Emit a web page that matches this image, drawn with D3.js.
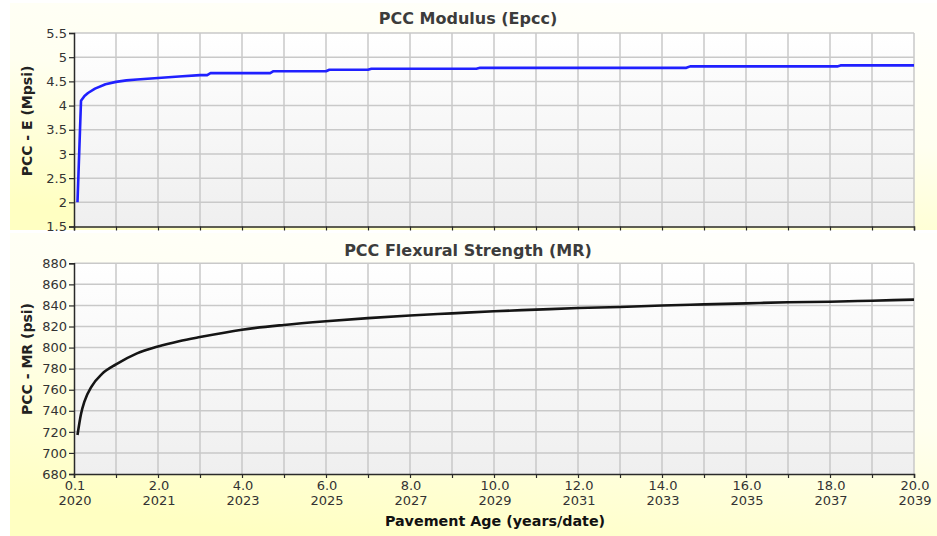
<!DOCTYPE html>
<html>
<head>
<meta charset="utf-8">
<script src="https://cdn.jsdelivr.net/npm/d3@7"></script>
<style>
  html, body { margin: 0; padding: 0; background: #ffffff; }
  svg { display: block; font-family: "DejaVu Sans", Verdana, sans-serif; }
</style>
</head>
<body>
<svg id="chart" width="937" height="536"></svg>
<script>
// Pavement age (years) and PCC modulus (Mpsi)
const ageE = [0.083, 0.167, 0.25, 0.333, 0.5, 0.75, 1.0, 1.25, 1.5, 2.0, 2.5, 3.0, 3.17, 3.25,
              4.67, 4.75, 6.0, 6.08, 7.0, 7.08, 9.58, 9.67, 14.58, 14.67, 18.17, 18.25, 20.0];
const epcc = [2.00, 4.10, 4.20, 4.26, 4.35, 4.44, 4.49, 4.52, 4.54, 4.57, 4.60, 4.63, 4.63, 4.67,
              4.67, 4.71, 4.71, 4.74, 4.74, 4.76, 4.76, 4.78, 4.78, 4.81, 4.81, 4.83, 4.83];

// Pavement age (years) and PCC flexural strength (psi)
const ageMR = [0.083, 0.167, 0.25, 0.417, 0.667, 1.0, 1.5, 2.0, 2.5, 3.0, 4.0, 5.0, 6.0, 7.0,
               8.0, 9.0, 10.0, 11.0, 12.0, 13.0, 14.0, 15.0, 16.0, 17.0, 18.0, 19.0, 20.0];
const mr = [717, 737, 749, 763, 775, 784, 794.5, 801, 806, 810, 817, 821.5, 825, 828,
            830.5, 832.5, 834.5, 836, 837.5, 838.5, 840, 841, 842, 843, 843.5, 844.5, 845.5];

// Axis ticks and labels
const xTicks = d3.range(0, 21);
const xLabelTicks = [0, 2, 4, 6, 8, 10, 12, 14, 16, 18, 20];
const ageLabels = ["0.1", "2.0", "4.0", "6.0", "8.0", "10.0", "12.0", "14.0", "16.0", "18.0", "20.0"];
const yearLabels = ["2020", "2021", "2023", "2025", "2027", "2029", "2031", "2033", "2035", "2037", "2039"];
const eTicks = [1.5, 2, 2.5, 3, 3.5, 4, 4.5, 5, 5.5];
const mrTicks = [680, 700, 720, 740, 760, 780, 800, 820, 840, 860, 880];

const svg = d3.select("#chart");
const defs = svg.append("defs");

const panelGrad = defs.append("linearGradient").attr("id", "panelBg")
  .attr("x1", 0.7).attr("y1", 0).attr("x2", 0.3).attr("y2", 1);
panelGrad.append("stop").attr("offset", "0%").attr("stop-color", "#fffffb");
panelGrad.append("stop").attr("offset", "45%").attr("stop-color", "#fffff0");
panelGrad.append("stop").attr("offset", "100%").attr("stop-color", "#ffffc2");

const plotGrad = defs.append("linearGradient").attr("id", "plotBg")
  .attr("x1", 0).attr("y1", 0).attr("x2", 0).attr("y2", 1);
plotGrad.append("stop").attr("offset", "0%").attr("stop-color", "#ffffff");
plotGrad.append("stop").attr("offset", "100%").attr("stop-color", "#efefef");

const x = d3.scaleLinear().domain([0, 20]).range([74, 914]);

function drawPanel(opt) {
  const g = svg.append("g");
  g.append("rect")
    .attr("x", 10).attr("y", opt.panelTop)
    .attr("width", 927).attr("height", opt.panelBottom - opt.panelTop)
    .attr("fill", "url(#panelBg)");

  const y = opt.y;
  const [y0, y1] = y.range();

  g.append("rect")
    .attr("x", x(0)).attr("y", y1)
    .attr("width", x(20) - x(0)).attr("height", y0 - y1)
    .attr("fill", "url(#plotBg)");

  // grid
  g.append("g").selectAll("line").data(xTicks.slice(1)).join("line")
    .attr("x1", d => x(d)).attr("x2", d => x(d))
    .attr("y1", y1).attr("y2", y0)
    .attr("stroke", "#c9c9c9").attr("stroke-width", 1.5);
  g.append("g").selectAll("line").data(opt.ticks.slice(1)).join("line")
    .attr("x1", x(0)).attr("x2", x(20))
    .attr("y1", d => y(d)).attr("y2", d => y(d))
    .attr("stroke", "#c9c9c9").attr("stroke-width", 1.5);

  // y axis
  const yAxis = d3.axisLeft(y).tickValues(opt.ticks).tickSize(5).tickPadding(2)
    .tickFormat(opt.fmt);
  const ya = g.append("g").attr("transform", `translate(${x(0)},0)`).call(yAxis);
  ya.select(".domain").attr("stroke", "#2a2a2a").attr("stroke-width", 1.5);
  ya.selectAll(".tick line").attr("stroke", "#2a2a2a").attr("stroke-width", 1.2);
  ya.selectAll(".tick text").attr("fill", "#333").attr("font-size", 13)
    .attr("font-family", "DejaVu Sans, sans-serif");

  // x axis
  const xAxis = d3.axisBottom(x).tickValues(xTicks).tickSize(4).tickFormat("");
  const xa = g.append("g").attr("transform", `translate(0,${y0})`).call(xAxis);
  xa.select(".domain").attr("stroke", "#2a2a2a").attr("stroke-width", 1.5);
  xa.selectAll(".tick line").attr("stroke", "#2a2a2a").attr("stroke-width", 1.2);

  // series line
  const line = d3.line().x(d => x(d[0])).y(d => y(d[1])).curve(opt.curve);
  g.append("path")
    .datum(opt.ages.map((a, i) => [a, opt.values[i]]))
    .attr("d", line)
    .attr("fill", "none")
    .attr("stroke", opt.color)
    .attr("stroke-width", 2.6)
    .attr("stroke-linejoin", "round");

  // titles
  g.append("text")
    .attr("x", 468).attr("y", opt.titleY)
    .attr("text-anchor", "middle")
    .attr("font-size", 16).attr("font-weight", "bold").attr("fill", "#3c3c3c")
    .text(opt.title);
  g.append("text")
    .attr("transform", `translate(32,${opt.yLabelCenter}) rotate(-90)`)
    .attr("text-anchor", "middle")
    .attr("font-size", 14).attr("font-weight", "bold").attr("fill", "#222")
    .text(opt.yLabel);
  return g;
}

drawPanel({
  panelTop: 3, panelBottom: 230,
  y: d3.scaleLinear().domain([1.5, 5.5]).range([226.5, 33]),
  ticks: eTicks, fmt: d3.format(""),
  ages: ageE, values: epcc, color: "#2020ff", curve: d3.curveLinear,
  title: "PCC Modulus (Epcc)", titleY: 24,
  yLabel: "PCC - E (Mpsi)", yLabelCenter: 121
});

const bottom = drawPanel({
  panelTop: 233, panelBottom: 536,
  y: d3.scaleLinear().domain([680, 880]).range([474, 263.3]),
  ticks: mrTicks, fmt: d3.format("d"),
  ages: ageMR, values: mr, color: "#151515", curve: d3.curveMonotoneX,
  title: "PCC Flexural Strength (MR)", titleY: 256,
  yLabel: "PCC - MR (psi)", yLabelCenter: 359
});

// age / year labels under the lower chart
const lab = bottom.append("g").attr("font-size", 13).attr("fill", "#333")
  .attr("text-anchor", "middle");
lab.selectAll("text.age").data(xLabelTicks).join("text").attr("class", "age")
  .attr("x", d => x(d) + 1).attr("y", 490)
  .text((d, i) => ageLabels[i]);
lab.selectAll("text.year").data(xLabelTicks).join("text").attr("class", "year")
  .attr("x", d => x(d) + 1).attr("y", 505)
  .text((d, i) => yearLabels[i]);

bottom.append("text")
  .attr("x", 495).attr("y", 526)
  .attr("text-anchor", "middle")
  .attr("font-size", 14.3).attr("font-weight", "bold").attr("fill", "#111")
  .text("Pavement Age (years/date)");
</script>
</body>
</html>
